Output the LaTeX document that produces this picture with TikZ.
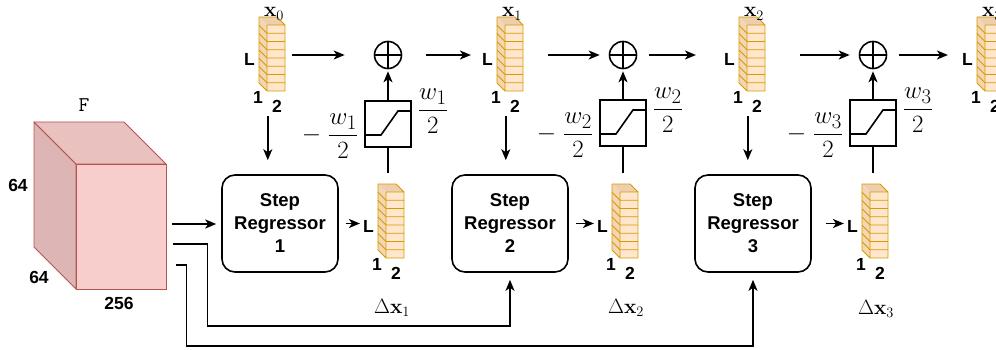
\documentclass[tikz,border=0pt]{standalone}
\usepackage{amsmath}
\usepackage[no-math]{fontspec}
\setsansfont{Liberation Sans}
\usetikzlibrary{arrows.meta,calc}
\definecolor{vfill}{HTML}{FFE6CC}
\definecolor{vside}{HTML}{F3D6B6}
\definecolor{vtop}{HTML}{EDCFB0}
\definecolor{vstroke}{HTML}{D79B00}
\definecolor{cfront}{HTML}{F8CECC}
\definecolor{ctop}{HTML}{E9C1BF}
\definecolor{cside}{HTML}{DDB5B4}
\definecolor{cstroke}{HTML}{B85450}
\newcommand{\vecstack}[3]{%
 \begin{scope}[shift={(#1,#2)}]
  \fill[vside] (-8,-8) -- (0,0) -- (0,66) -- (-8,58) -- cycle;
  \fill[vtop] (-8,-8) -- (10,-8) -- (18,0) -- (0,0) -- cycle;
  \fill[vfill] (0,0) rectangle (18,66);
  \draw[vstroke, line width=0.9pt, line join=round] (-8,-8) -- (10,-8) -- (18,0) -- (18,66) -- (0,66) -- (-8,58) -- cycle (0,0) -- (18,0) (0,0) -- (0,66);
  \foreach \i in {1,...,7}{\draw[vstroke, line width=0.9pt] (-8,{\i*8.25-8}) -- (0,{\i*8.25}) -- (18,{\i*8.25});}
  \node[lbl] (#3L) at (-17.5,34) {L};
  \node[lbl] (#3a) at (-9,72) {1};
  \node[lbl] (#3b) at (10,81) {2};
 \end{scope}
 \node[inner sep=0, minimum width=18pt, minimum height=66pt] (#3) at (#1+9,#2+33) {};
}
\begin{document}
\begin{tikzpicture}[x=1pt,y=-1pt,
  lbl/.style={font=\sffamily\bfseries\fontsize{17.5}{20}\selectfont, inner sep=0},
  reg/.style={draw, line width=1.6pt, rounded corners=13pt, minimum width=116pt, minimum height=97pt, align=center, inner sep=0, font=\sffamily\bfseries\fontsize{18.5}{23}\selectfont},
  arr/.style={-{Stealth[length=11pt,width=9pt,inset=3pt]}, line width=1.6pt},
  ln/.style={line width=1.6pt},
  mth/.style={font=\fontsize{20.74}{24}\selectfont, inner sep=0},
  frc/.style={font=\fontsize{28}{32}\selectfont, inner sep=0},
  plus/.style={circle, draw, line width=1.6pt, minimum size=27pt, inner sep=0},
  ramp/.style={draw, line width=1.6pt, minimum size=46pt, inner sep=0},
]
\useasboundingbox (0,0) rectangle (996,350);
\fill[white] (0,0) rectangle (996,350);
\clip (0,0) rectangle (996,350);

% cube F
\fill[cside, draw=cstroke, line width=0.9pt, line join=round] (34,122) -- (76,164) -- (76,289) -- (34,247) -- cycle;
\fill[ctop, draw=cstroke, line width=0.9pt, line join=round] (34,122) -- (124,122) -- (166,164) -- (76,164) -- cycle;
\node[draw=cstroke, fill=cfront, line width=0.9pt, minimum width=90pt, minimum height=125pt, inner sep=0] (Ff) at (121,226.5) {};
\node[font=\ttfamily\fontsize{21}{24}\selectfont, inner sep=0] (Flab) at (84,105) {F};
\node[lbl] (dimA) at (18,185) {64};
\node[lbl] (dimB) at (39,277) {64};
\node[lbl] (dimC) at (119,303) {256};

% vectors
\vecstack{267}{25}{x0}
\vecstack{505}{25}{x1}
\vecstack{747}{25}{x2}
\vecstack{985}{25}{x3}
\vecstack{386}{192}{d1}
\vecstack{620}{192}{d2}
\vecstack{870}{192}{d3}

\node[mth, anchor=base] (xl0) at (274,17) {$\mathbf{x}_0$};
\node[mth, anchor=base] (xl1) at (512,17) {$\mathbf{x}_1$};
\node[mth, anchor=base] (xl2) at (754,17) {$\mathbf{x}_2$};
\node[mth, anchor=base] (xl3) at (992,17) {$\mathbf{x}_3$};
\node[mth] (dl1) at (392,308) {$\Delta\mathbf{x}_1$};
\node[mth] (dl2) at (626,308) {$\Delta\mathbf{x}_2$};
\node[mth] (dl3) at (876,309) {$\Delta\mathbf{x}_3$};

% regressors
\node[reg] (r1) at (280,223.5) {Step\\Regressor\\1};
\node[reg] (r2) at (510,223.5) {Step\\Regressor\\2};
\node[reg] (r3) at (753,223.5) {Step\\Regressor\\3};

% plus and ramps
\node[plus] (p1) at (388,55) {};
\node[plus] (p2) at (623,55) {};
\node[plus] (p3) at (873,55) {};
\foreach \p in {p1,p2,p3}{\draw[ln] (\p.north) -- (\p.south) (\p.west) -- (\p.east);}
\node[ramp] (c1) at (388,124) {};
\node[ramp] (c2) at (623,123) {};
\node[ramp] (c3) at (873,123) {};
\foreach \c/\k in {c1/1,c2/2,c3/3}{
  \draw[ln] ($(\c.center)+(-23,11)$) -- ++(16,0) -- ++(17,-24) -- ++(13,0);
  \node[frc, anchor=east] (\c m) at ($(\c.west)+(-6,12)$) {$-\mkern5mu\displaystyle\frac{w_{\k}}{2}$};
  \node[frc, anchor=west] (\c p) at ($(\c.east)+(6,-13)$) {$\displaystyle\frac{w_{\k}}{2}$};
}
\draw[arr, shorten >=2pt] (c1.north) -- (p1.south);
\draw[arr, shorten >=2pt] (c2.north) -- (p2.south);
\draw[arr, shorten >=2pt] (c3.north) -- (p3.south);
\draw[ln, shorten >=19pt] (c1.south) -- (c1.south |- d1.north);
\draw[ln, shorten >=19pt] (c2.south) -- (c2.south |- d2.north);
\draw[ln, shorten >=19pt] (c3.south) -- (c3.south |- d3.north);

% top row arrows
\draw[arr, shorten <=7pt, shorten >=29pt] (x0.east |- p1) -- (p1.west);
\draw[arr, shorten <=24pt, shorten >=11pt] (p1.east) -- (p1.east -| x1L.west);
\draw[arr, shorten <=25pt, shorten >=9pt] (x1.east |- p2) -- (p2.west);
\draw[arr, shorten <=12pt, shorten >=28pt] (p2.east) -- (p2.east -| x2L.west);
\draw[arr, shorten <=35pt, shorten >=9pt] (x2.east |- p3) -- (p3.west);
\draw[arr, shorten <=12pt, shorten >=14pt] (p3.east) -- (p3.east -| x3L.west);

% vectors down to regressors
\draw[arr, shorten >=14pt] ($(x0.south west)+(1,25)$) coordinate (x0d) -- (x0d |- r1.north);
\draw[arr, shorten >=14pt] ($(x1.south west)+(1,25)$) coordinate (x1d) -- (x1d |- r2.north);
\draw[arr, shorten >=14pt] ($(x2.south west)+(1,25)$) coordinate (x2d) -- (x2d |- r3.north);

% regressors to delta
\draw[arr, shorten <=7pt, shorten >=3pt] (r1.east) -- (r1.east -| d1L.west);
\draw[arr, shorten <=7pt, shorten >=3pt] (r2.east) -- (r2.east -| d2L.west);
\draw[arr, shorten <=14pt, shorten >=3pt] (r3.east) -- (r3.east -| d3L.west);

% F to regressors
\draw[arr, shorten >=5pt] ($(Ff.east)+(6,-2.5)$) coordinate (fa) -- (fa -| r1.west);
\draw[arr, shorten >=7pt] ($(Ff.east)+(7,17.5)$) -- ++(34,0) -- ++(0,82) -| (r2.south);
\draw[arr, shorten >=7pt] ($(Ff.east)+(10,38.5)$) -- ++(10,0) -- ++(0,81) -| (r3.south);
\end{tikzpicture}
\end{document}
